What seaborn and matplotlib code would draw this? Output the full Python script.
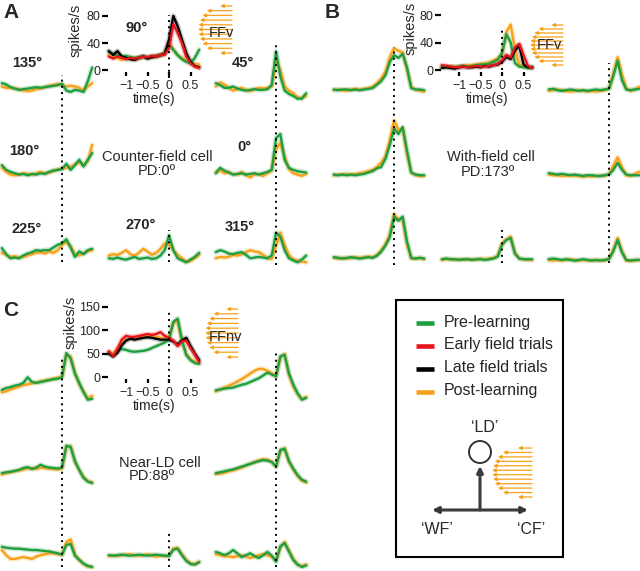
import matplotlib
matplotlib.use("Agg")
import matplotlib.pyplot as plt
import numpy as np
import pandas as pd
import seaborn as sns
from matplotlib.patches import Circle, Rectangle

# --- DATA: firing rate (spikes/s) vs time from movement onset (s) ---
time_s = [-1.4, -1.3, -1.2, -1.1, -1.0, -0.9, -0.8, -0.7, -0.6, -0.5, -0.4,
          -0.3, -0.2, -0.1, 0.0, 0.1, 0.2, 0.3, 0.4, 0.5, 0.6, 0.7]

phases = ["Pre-learning", "Early field trials", "Late field trials", "Post-learning"]
phase_colors = ["#1f9e40", "#e8141c", "#000000", "#f7a11a"]
draw_order = ["Post-learning", "Pre-learning", "Late field trials", "Early field trials"]

tick_vals = [-1, -0.5, 0, 0.5]
tick_labels = ["\u22121", "\u22120.5", "0", "0.5"]

# panel A - counter-field cell
a_90_pre = [27, 24, 22, 20, 21, 19, 18, 19, 20, 19, 20, 21, 22, 25, 38, 30, 22, 16, 12, 10, 18, 30]
a_90_early = [20, 17, 20, 18, 16, 18, 17, 18, 20, 19, 21, 20, 22, 23, 32, 68, 55, 40, 20, 10, 5, 3]
a_90_late = [28, 22, 28, 20, 18, 16, 15, 18, 20, 17, 19, 20, 22, 24, 45, 80, 65, 45, 25, 12, 6, 4]
a_90_post = [22, 20, 18, 15, 17, 18, 15, 17, 20, 18, 19, 20, 22, 26, 42, 30, 22, 18, 14, 11, 9, 8]
a_135_pre = [25, 23, 19, 17, 15, 16, 17, 18, 19, 18, 19, 20, 21, 22, 24, 14, 12, 15, 14, 12, 28, 48]
a_135_post = [20, 18, 18, 17, 16, 14, 13, 14, 16, 17, 19, 21, 22, 24, 22, 20, 21, 20, 18, 14, 20, 25]
a_45_pre = [25, 22, 18, 18, 20, 17, 15, 14, 15, 16, 15, 15, 16, 22, 72, 35, 14, 9, 6, 2, 2, 10]
a_45_post = [20, 26, 23, 18, 14, 16, 18, 15, 13, 16, 18, 17, 18, 20, 58, 45, 20, 14, 10, 4, 3, 6]
a_180_pre = [22, 15, 12, 10, 8, 9, 7, 9, 8, 10, 9, 12, 14, 15, 16, 24, 15, 22, 30, 20, 30, 40]
a_180_post = [18, 12, 8, 7, 8, 10, 9, 8, 10, 12, 10, 11, 13, 16, 17, 18, 20, 23, 26, 22, 28, 52]
a_0_pre = [10, 18, 14, 11, 8, 9, 10, 8, 9, 10, 8, 10, 12, 15, 62, 68, 30, 18, 15, 13, 12, 11]
a_0_post = [12, 14, 10, 12, 9, 8, 12, 7, 4, 8, 9, 6, 10, 14, 45, 55, 35, 16, 10, 8, 6, 9]
a_225_pre = [25, 16, 10, 11, 10, 14, 17, 19, 22, 21, 22, 22, 26, 30, 32, 38, 26, 12, 20, 16, 22, 24]
a_225_post = [18, 15, 12, 13, 11, 12, 14, 16, 18, 19, 17, 20, 18, 22, 30, 34, 28, 16, 14, 18, 20, 22]
a_270_pre = [10, 9, 11, 9, 8, 10, 12, 9, 10, 11, 9, 10, 14, 22, 44, 22, 10, 7, 4, 8, 12, 18]
a_270_post = [14, 16, 15, 18, 22, 16, 14, 18, 24, 20, 15, 18, 24, 32, 30, 22, 15, 10, 5, 6, 10, 15]
a_315_pre = [19, 22, 20, 17, 16, 18, 19, 15, 10, 11, 12, 11, 10, 14, 48, 42, 22, 10, 7, 4, 8, 14]
a_315_post = [10, 12, 11, 12, 15, 14, 16, 19, 22, 20, 19, 15, 10, 9, 28, 48, 30, 15, 8, 7, 5, 4]

# panel B - with-field cell
b_90_pre = [5, 4, 5, 4, 5, 6, 5, 6, 7, 8, 8, 9, 12, 15, 25, 52, 40, 10, 5, 4, 3, 3]
b_90_early = [7, 6, 5, 4, 4, 5, 4, 5, 6, 5, 5, 6, 7, 9, 14, 22, 18, 33, 38, 22, 6, 3]
b_90_late = [3, 4, 3, 2, 4, 5, 4, 4, 5, 4, 6, 5, 7, 8, 12, 19, 16, 28, 36, 8, 4, 4]
b_90_post = [5, 5, 4, 5, 5, 6, 7, 7, 8, 9, 10, 11, 14, 17, 22, 55, 66, 30, 8, 5, 4, 4]
b_135_pre = [8, 7, 8, 8, 7, 8, 7, 8, 9, 10, 15, 20, 29, 48, 58, 54, 60, 40, 10, 8, 8, 7]
b_135_post = [7, 8, 7, 6, 8, 9, 8, 9, 10, 12, 17, 24, 34, 55, 68, 64, 62, 38, 12, 8, 6, 5]
b_45_pre = [8, 9, 7, 6, 7, 8, 7, 6, 7, 6, 7, 8, 7, 8, 9, 28, 50, 22, 8, 7, 8, 9]
b_45_post = [6, 7, 8, 7, 6, 5, 6, 7, 6, 5, 6, 5, 6, 7, 10, 32, 55, 30, 10, 6, 8, 12]
b_180_pre = [5, 4, 5, 4, 5, 4, 5, 6, 8, 10, 14, 16, 28, 48, 72, 64, 74, 40, 8, 5, 4, 4]
b_180_post = [4, 5, 5, 6, 5, 6, 7, 8, 10, 12, 16, 22, 32, 55, 84, 70, 72, 35, 8, 4, 3, 3]
b_0_pre = [7, 6, 5, 6, 5, 4, 5, 4, 3, 4, 4, 3, 3, 4, 5, 12, 22, 12, 5, 4, 4, 4]
b_0_post = [5, 4, 4, 3, 3, 4, 3, 3, 2, 3, 2, 3, 3, 3, 6, 18, 30, 16, 4, 3, 6, 9]
b_225_pre = [7, 6, 5, 6, 7, 6, 5, 6, 7, 6, 9, 15, 24, 36, 66, 60, 66, 30, 6, 5, 6, 5]
b_225_post = [6, 5, 6, 5, 6, 7, 6, 7, 8, 7, 10, 17, 26, 40, 70, 62, 62, 26, 5, 5, 6, 4]
b_270_pre = [4, 5, 4, 4, 3, 4, 4, 3, 4, 4, 3, 4, 5, 8, 25, 32, 35, 12, 5, 4, 4, 4]
b_270_post = [3, 4, 4, 3, 4, 3, 4, 4, 3, 5, 4, 5, 6, 9, 27, 33, 37, 14, 5, 4, 3, 3]
b_315_pre = [4, 5, 4, 3, 4, 3, 2, 3, 4, 3, 2, 3, 2, 3, 4, 16, 32, 14, 3, 2, 3, 3]
b_315_post = [3, 2, 3, 2, 3, 4, 3, 2, 3, 2, 3, 2, 3, 2, 5, 18, 35, 16, 2, 2, 2, 3]

# panel C - near-LD cell
c_90_pre = [52, 47, 56, 60, 58, 55, 54, 55, 56, 58, 62, 66, 70, 74, 80, 118, 125, 79, 47, 36, 30, 28]
c_90_early = [55, 45, 60, 80, 88, 86, 86, 88, 90, 92, 90, 92, 96, 88, 84, 78, 66, 76, 78, 62, 48, 32]
c_90_late = [50, 44, 52, 68, 78, 82, 80, 82, 84, 85, 84, 82, 80, 80, 80, 76, 70, 78, 84, 66, 50, 36]
c_90_post = [54, 50, 62, 72, 80, 82, 84, 83, 86, 88, 90, 86, 84, 82, 85, 115, 120, 75, 50, 38, 32, 30]
c_135_pre = [43, 47, 49, 52, 54, 58, 70, 60, 58, 60, 62, 64, 66, 67, 70, 122, 110, 78, 58, 38, 22, 24]
c_135_post = [38, 40, 44, 47, 50, 53, 55, 57, 59, 61, 63, 65, 67, 69, 72, 118, 115, 80, 55, 40, 25, 30]
c_45_pre = [42, 44, 46, 47, 48, 51, 54, 56, 60, 64, 68, 74, 80, 76, 72, 115, 118, 78, 55, 36, 22, 26]
c_45_post = [40, 44, 48, 52, 56, 61, 66, 72, 78, 84, 88, 88, 84, 79, 72, 112, 120, 76, 50, 34, 24, 28]
c_180_pre = [36, 38, 39, 41, 43, 47, 49, 45, 48, 54, 50, 48, 47, 46, 48, 95, 92, 62, 43, 26, 18, 15]
c_180_post = [33, 36, 38, 40, 42, 44, 46, 47, 45, 48, 47, 46, 45, 44, 46, 92, 95, 60, 42, 28, 19, 16]
c_0_pre = [36, 38, 40, 42, 44, 47, 50, 53, 56, 59, 62, 64, 63, 60, 50, 86, 88, 62, 46, 32, 22, 18]
c_0_post = [34, 35, 37, 40, 42, 45, 48, 52, 56, 60, 63, 66, 65, 60, 50, 82, 90, 60, 44, 30, 20, 16]
c_225_pre = [54, 52, 51, 50, 50, 49, 48, 47, 47, 46, 45, 44, 42, 40, 37, 58, 60, 35, 26, 18, 13, 11]
c_225_post = [47, 36, 28, 28, 30, 32, 30, 28, 33, 36, 38, 40, 40, 38, 37, 64, 70, 38, 26, 17, 12, 10]
c_270_pre = [36, 35, 36, 37, 36, 35, 36, 37, 36, 35, 36, 37, 36, 35, 34, 48, 50, 36, 24, 17, 16, 21]
c_270_post = [34, 35, 34, 36, 37, 38, 36, 35, 36, 38, 36, 33, 35, 34, 36, 50, 52, 38, 26, 19, 17, 22]
c_315_pre = [43, 40, 36, 40, 47, 40, 32, 36, 40, 34, 30, 36, 43, 35, 22, 55, 62, 44, 26, 16, 11, 14]
c_315_post = [38, 36, 34, 33, 32, 34, 36, 33, 30, 33, 36, 38, 36, 32, 26, 52, 64, 46, 28, 16, 12, 16]

# --- LAYOUT (pixels) ---
W, H = 640, 571
CELL_W = 92
XLIM = (-1.42, 0.72)
palette = dict(zip(phases, phase_colors))
GREEN, RED, BLACK, ORANGE = phase_colors

sns.set_theme(style="white")
plt.rcParams['font.family'] = ['Liberation Sans', 'DejaVu Sans']
plt.rcParams['axes.unicode_minus'] = True

fig = plt.figure(figsize=(W / 100, H / 100), dpi=100)


def rect(left, top, width, height):
    return [left / W, 1 - (top + height) / H, width / W, height / H]


def draw_traces(ax, series):
    df = pd.concat([pd.DataFrame({"time": time_s, "rate": vals, "phase": ph})
                    for ph, vals in series], ignore_index=True)
    order = [p for p in draw_order if p in set(df["phase"])]
    # pale band (sem) then the mean trace on top
    sns.lineplot(data=df, x="time", y="rate", hue="phase", hue_order=order,
                 palette=palette, linewidth=3.8, alpha=0.22, errorbar=None,
                 legend=False, ax=ax)
    sns.lineplot(data=df, x="time", y="rate", hue="phase", hue_order=order,
                 palette=palette, linewidth=1.7, errorbar=None, legend=False, ax=ax)
    for ln in ax.lines:
        ln.set_clip_on(False)
        ln.set_solid_joinstyle("round")
        ln.set_solid_capstyle("round")


def side_cell(left, zero_y, scale, cell_h, pre, post):
    ax = fig.add_axes(rect(left, zero_y - cell_h, CELL_W, cell_h))
    draw_traces(ax, [("Pre-learning", pre), ("Post-learning", post)])
    ax.set_xlim(XLIM)
    ax.set_ylim(0, cell_h / scale)
    ax.axis("off")


def inset_cell(left, zero_y, top_y, scale, yticks, pre, early, late, post):
    bottom = zero_y + 2
    ax = fig.add_axes(rect(left, top_y, CELL_W, bottom - top_y))
    draw_traces(ax, [("Pre-learning", pre), ("Early field trials", early),
                     ("Late field trials", late), ("Post-learning", post)])
    ax.set_xlim(XLIM)
    ax.set_ylim(-2 / scale, (zero_y - top_y) / scale)
    sns.despine(ax=ax, left=True, bottom=True)
    ax.set_facecolor("none")
    ax.set_xticks(tick_vals)
    ax.set_xticklabels(tick_labels)
    ax.set_yticks(yticks)
    ax.set_yticklabels([str(v) for v in yticks])
    ax.tick_params(axis="x", bottom=True, direction="out", length=3, width=1.6,
                   color="black", labelsize=9, pad=3)
    ax.tick_params(axis="y", left=True, direction="out", length=4.5, width=1.6,
                   color="black", labelsize=9, pad=1)
    ax.set_xlabel("time(s)", fontsize=10, labelpad=0)
    ax.set_ylabel("")


def dotted(left, top, bottom):
    ax = fig.add_axes(rect(left, top, CELL_W, bottom - top))
    ax.set_xlim(XLIM)
    ax.axvline(0, color="black", lw=1.4, ls=(0, (1, 2.2)))
    ax.axis("off")


# panel A
cols_a, zeros_a = [1, 108, 215], [100, 180, 265]
for (r, c), (pre, post) in {(0, 0): (a_135_pre, a_135_post), (0, 2): (a_45_pre, a_45_post),
                            (1, 0): (a_180_pre, a_180_post), (1, 2): (a_0_pre, a_0_post),
                            (2, 0): (a_225_pre, a_225_post), (2, 1): (a_270_pre, a_270_post),
                            (2, 2): (a_315_pre, a_315_post)}.items():
    side_cell(cols_a[c], zeros_a[r], 0.675, 60, pre, post)
inset_cell(108, 70, 13, 0.675, [0, 40, 80], a_90_pre, a_90_early, a_90_late, a_90_post)

# panel B
cols_b, zeros_b = [333, 441, 548], [95, 178, 262]
for (r, c), (pre, post) in {(0, 0): (b_135_pre, b_135_post), (0, 2): (b_45_pre, b_45_post),
                            (1, 0): (b_180_pre, b_180_post), (1, 2): (b_0_pre, b_0_post),
                            (2, 0): (b_225_pre, b_225_post), (2, 1): (b_270_pre, b_270_post),
                            (2, 2): (b_315_pre, b_315_post)}.items():
    side_cell(cols_b[c], zeros_b[r], 0.6875, 60, pre, post)
inset_cell(441, 70, 13, 0.6875, [0, 40, 80], b_90_pre, b_90_early, b_90_late, b_90_post)

# panel C
cols_c, zeros_c = [1, 108, 215], [410, 490, 572]
for (r, c), (pre, post) in {(0, 0): (c_135_pre, c_135_post), (0, 2): (c_45_pre, c_45_post),
                            (1, 0): (c_180_pre, c_180_post), (1, 2): (c_0_pre, c_0_post),
                            (2, 0): (c_225_pre, c_225_post), (2, 1): (c_270_pre, c_270_post),
                            (2, 2): (c_315_pre, c_315_post)}.items():
    side_cell(cols_c[c], zeros_c[r], 0.467, 65, pre, post)
inset_cell(108, 377, 300, 0.467, [0, 50, 100, 150], c_90_pre, c_90_early, c_90_late, c_90_post)

# movement onset markers
for seg in [(1, 75, 262), (215, 45, 265), (108, 15, 78), (108, 230, 262),
            (333, 47, 265), (548, 63, 263), (441, 28, 70), (441, 230, 263),
            (1, 357, 567), (215, 352, 567), (108, 312, 377), (108, 530, 567)]:
    dotted(*seg)

# --- overlay for labels, icons and legend ---
ov = fig.add_axes([0, 0, 1, 1])
ov.set_xlim(0, W)
ov.set_ylim(H, 0)
ov.axis("off")

for letter, x, y in [("A", 3, 12), ("B", 325, 12), ("C", 3, 311)]:
    ov.text(x, y, letter, fontsize=15, fontweight="bold", va="center", ha="left")

for s, x, y in [("135°", 27, 63), ("90°", 137, 28), ("45°", 243, 63), ("180°", 24, 151),
                ("0°", 244, 147), ("225°", 27, 229), ("270°", 141, 225), ("315°", 240, 227)]:
    ov.text(x, y, s, fontsize=10.5, fontweight="bold", ha="center", va="center")

for s, x, y in [("Counter-field cell", 157, 157), ("PD:0º", 157, 171),
                ("With-field cell", 491, 157), ("PD:173º", 488, 172),
                ("Near-LD cell", 160, 463), ("PD:88º", 152, 476)]:
    ov.text(x, y, s, fontsize=10.5, ha="center", va="center")

for x, y in [(76, 30), (411, 28), (71, 322)]:
    ov.text(x, y, "spikes/s", fontsize=10.5, rotation=90, ha="center", va="center")


def force_field(xr, ytop, ybot, maxlen, n=11):
    for i in range(n):
        f = i / (n - 1) * 2 - 1
        length = maxlen * (0.35 + 0.65 * np.sqrt(1 - f ** 2))
        y = ytop + (ybot - ytop) * i / (n - 1)
        ov.annotate("", xy=(xr - length, y), xytext=(xr, y),
                    arrowprops=dict(arrowstyle="-|>", color=ORANGE, lw=0.9,
                                    mutation_scale=5, shrinkA=0, shrinkB=0))


force_field(232, 6, 53, 34)
ov.text(221, 33, "FFv", fontsize=10.5, ha="center", va="center")
force_field(563, 25, 65, 33)
ov.text(549, 45, "FFv", fontsize=10.5, ha="center", va="center")
force_field(238, 309, 357, 33)
ov.text(225, 337, "FFnv", fontsize=10.5, ha="center", va="center")

# legend box
ov.add_patch(Rectangle((396, 300), 167, 257, fill=False, lw=1.5, ec="black"))
for i, ph in enumerate(phases):
    y = 323 + 23 * i
    ov.plot([416, 434], [y, y], color=palette[ph], lw=3.3, solid_capstyle="butt")
    ov.text(444, y - 1, ph, fontsize=11.5, va="center", ha="left")

ov.add_patch(Circle((480, 452), 11, fill=False, lw=1.4, ec="#333333"))
ov.annotate("", xy=(480, 466), xytext=(480, 510),
            arrowprops=dict(arrowstyle="-|>", color="#3a3a3a", lw=2.2,
                            mutation_scale=9, shrinkA=0, shrinkB=0))
ov.annotate("", xy=(432, 510), xytext=(528, 510),
            arrowprops=dict(arrowstyle="<|-|>", color="#3a3a3a", lw=2.2,
                            mutation_scale=9, shrinkA=0, shrinkB=0))
force_field(532, 448, 497, 40, n=12)
ov.text(485, 428, "\u2018LD\u2019", fontsize=11.5, ha="center", va="center")
ov.text(437, 529, "\u2018WF\u2019", fontsize=11.5, ha="center", va="center")
ov.text(531, 529, "\u2018CF\u2019", fontsize=11.5, ha="center", va="center")

fig.savefig("out.png", dpi=100, facecolor="white")
